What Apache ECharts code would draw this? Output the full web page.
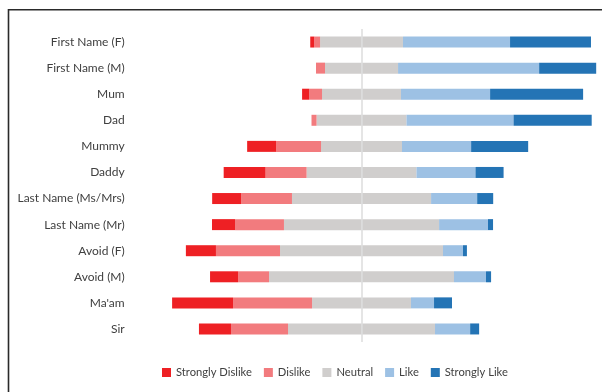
<!DOCTYPE html>
<html>
<head>
<meta charset="utf-8">
<script src="https://cdn.jsdelivr.net/npm/echarts@6/dist/echarts.min.js"></script>
<style>
  html, body { margin: 0; padding: 0; background: #ffffff; }
  #chart { width: 602px; height: 392px; }
</style>
</head>
<body>
<div id="chart"></div>
<script>
// Forms of address and how respondents rated them (% of responses per row)
var categories = ['First Name (F)', 'First Name (M)', 'Mum', 'Dad', 'Mummy', 'Daddy',
  'Last Name (Ms/Mrs)', 'Last Name (Mr)', 'Avoid (F)', 'Avoid (M)', "Ma'am", 'Sir'];
var stronglyDislike = [1.4, 0, 2.5, 0, 10.3, 14.9, 10.3, 8.2, 10.7, 10.0, 21.7, 11.4];
var dislike         = [2.1, 3.2, 4.6, 1.8, 16.0, 14.6, 18.1, 17.4, 22.8, 11.0, 28.1, 20.3];
var neutral         = [29.5, 26.0, 28.1, 32.0, 28.8, 39.1, 49.5, 55.2, 58.0, 65.8, 35.2, 52.3];
var like            = [38.1, 50.2, 31.7, 38.1, 24.6, 21.0, 16.4, 17.4, 7.1, 11.4, 8.2, 12.5];
var stronglyLike    = [28.8, 20.3, 33.1, 27.8, 20.3, 10.0, 5.7, 1.8, 1.4, 1.8, 6.4, 3.2];
var legendNames = ['Strongly Dislike', 'Dislike', 'Neutral', 'Like', 'Strongly Like'];

var colors = {
  'Strongly Dislike': '#ee2024',
  'Dislike': '#f27b7e',
  'Neutral': '#d0cecd',
  'Like': '#9dc1e4',
  'Strongly Like': '#2474b5'
};

var FONT = 'Lato';

// Neutral is split evenly around zero; dislikes extend left, likes extend right
function neg(arr) { return arr.map(function (v) { return -v; }); }
function half(arr, sign) { return arr.map(function (v) { return sign * v / 2; }); }

function barSeries(name, data) {
  return {
    name: name,
    type: 'bar',
    stack: 'rating',
    barWidth: 11,
    data: data,
    itemStyle: { color: colors[name] },
    emphasis: { disabled: true },
    animation: false
  };
}

var chart = echarts.init(document.getElementById('chart'), null, { renderer: 'canvas' });

chart.setOption({
  backgroundColor: '#ffffff',
  animation: false,
  textStyle: { fontFamily: FONT },
  graphic: [{
    type: 'polyline',
    shape: { points: [[8.5, 400], [8.5, 9.8], [620, 9.8]] },
    style: { stroke: '#2a2a2a', lineWidth: 1.6, fill: null },
    silent: true
  }],
  grid: { left: 136.7, right: 1.6, top: 29, bottom: 50, containLabel: false },
  xAxis: {
    type: 'value',
    min: -80,
    max: 85,
    show: false
  },
  yAxis: {
    type: 'category',
    data: categories,
    inverse: true,
    axisLine: { show: false },
    axisTick: { show: false },
    splitLine: { show: false },
    axisLabel: { color: '#404040', fontSize: 12, margin: 12, fontFamily: FONT, padding: [3, 0, 0, 0] }
  },
  legend: {
    data: legendNames,
    left: 157,
    top: 362,
    itemWidth: 9,
    itemHeight: 9,
    itemGap: 12,
    icon: 'rect',
    selectedMode: false,
    textStyle: { color: '#404040', fontSize: 11.2, fontFamily: FONT }
  },
  series: [
    barSeries('Neutral', half(neutral, -1)),
    barSeries('Neutral', half(neutral, 1)),
    barSeries('Dislike', neg(dislike)),
    barSeries('Like', like),
    barSeries('Strongly Dislike', neg(stronglyDislike)),
    barSeries('Strongly Like', stronglyLike),
    {
      name: 'zero',
      type: 'line',
      data: [],
      z: 5,
      silent: true,
      markLine: {
        silent: true,
        symbol: ['none', 'none'],
        label: { show: false },
        lineStyle: { color: '#dcdcdc', width: 1.5, type: 'solid' },
        emphasis: { disabled: true },
        data: [{ xAxis: 0 }],
        animation: false
      }
    }
  ]
});
</script>
</body>
</html>
